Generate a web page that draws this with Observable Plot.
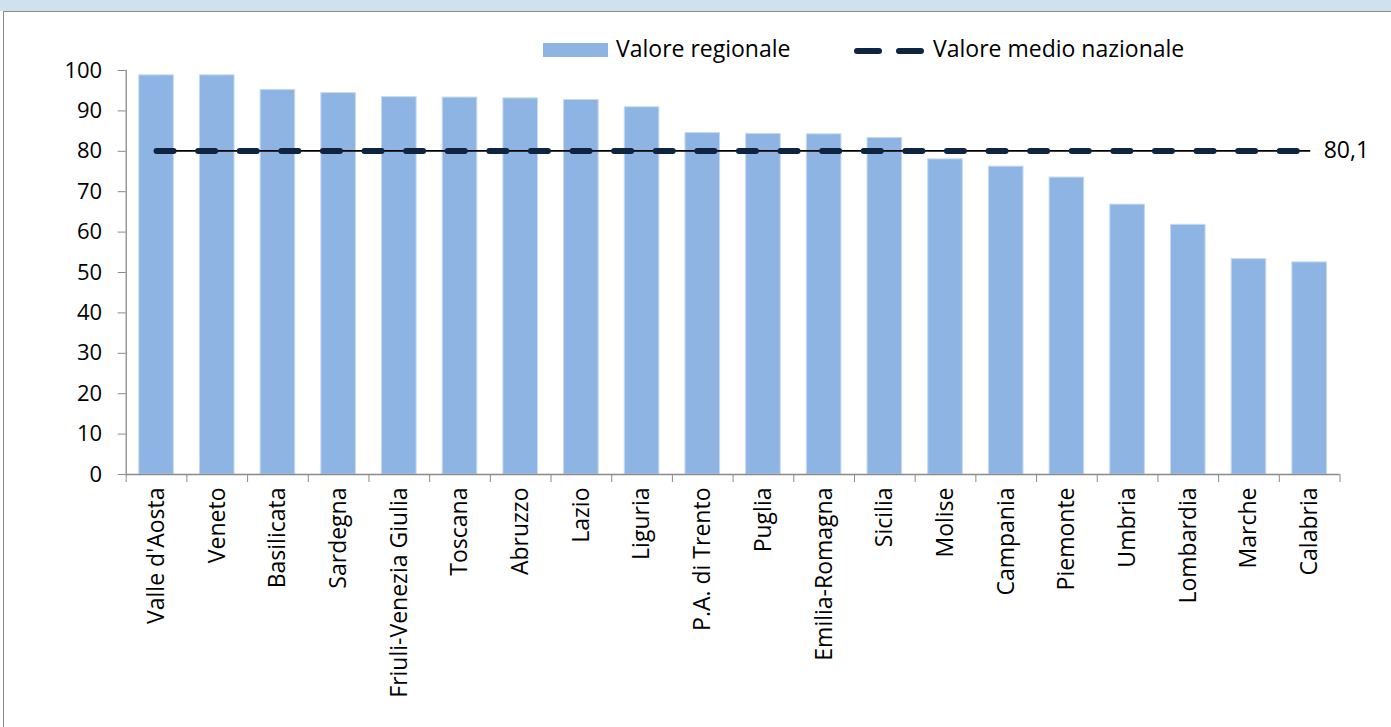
<!DOCTYPE html>
<html><head><meta charset="utf-8">
<script src="https://cdn.jsdelivr.net/npm/d3@7"></script>
<script src="https://cdn.jsdelivr.net/npm/@observablehq/plot@0.6"></script>
<style>
body{margin:0;background:#fff;font-family:"Open Sans",sans-serif;}
#wrap{position:relative;width:1391px;height:727px;overflow:hidden;background:#fff;}
#band{position:absolute;left:0;top:0;width:1391px;height:11px;background:#cfe1ec;}
#hline{position:absolute;left:3px;top:11px;width:1388px;height:1px;background:#8a8a8a;}
#vline{position:absolute;left:3px;top:11px;width:1px;height:716px;background:#8a8a8a;}
#chart{position:absolute;left:0;top:0;}
.leg{position:absolute;font-size:23px;color:#000;line-height:1;white-space:nowrap;}
</style></head>
<body>
<div id="wrap">
  <div id="band"></div><div id="hline"></div><div id="vline"></div>
  <div id="chart"></div>
  <div id="legend"></div>
</div>
<script>
const regions = ["Valle d'Aosta","Veneto","Basilicata","Sardegna","Friuli-Venezia Giulia","Toscana","Abruzzo","Lazio","Liguria","P.A. di Trento","Puglia","Emilia-Romagna","Sicilia","Molise","Campania","Piemonte","Umbria","Lombardia","Marche","Calabria"];
const values = [98.8,98.8,95.2,94.4,93.4,93.3,93.1,92.7,90.9,84.5,84.3,84.2,83.3,78.0,76.2,73.5,66.8,61.8,53.3,52.5];
const nationalMean = 80.1;
const yTicks = [0,10,20,30,40,50,60,70,80,90,100];
const seriesNames = ["Valore regionale","Valore medio nazionale"];

const barColor = "#8eb4e3";
const dashColor = "#0f2440";
const axisColor = "#8a8a8a";
const data = regions.map((r,i)=>({region:r, value:values[i]}));

const W = 1391, H = 727, mL = 125.7, mR = 51.5, mT = 70, mB = 253;
const step = (W - mL - mR) / regions.length;

const chart = Plot.plot({
  width: W, height: H,
  marginTop: mT, marginBottom: mB, marginLeft: mL, marginRight: mR,
  style: {background: "transparent", fontFamily: "Open Sans", fontSize: "23px", color: "#000", overflow: "visible"},
  x: {domain: regions, paddingInner: 0.43, paddingOuter: 0.215, round: false, label: null},
  y: {domain: [0, 100], label: null},
  marks: [
    Plot.barY(data, {x: "region", y: "value", fill: barColor, stroke: "#c6d9f1", strokeWidth: 1}),
    Plot.ruleY([0], {stroke: axisColor, strokeWidth: 1.3}),
    Plot.frame({anchor: "left", stroke: axisColor, strokeWidth: 1.3}),
    Plot.axisY({ticks: yTicks, tickSize: 8, tickPadding: 16, stroke: axisColor, fill: "#000", fontSize: 22, label: null, tickFormat: d => d}),
    Plot.axisX({ticks: regions, tickSize: 8, dx: -step/2, stroke: axisColor, fill: "none", label: null}),
    Plot.axisX({ticks: [regions[regions.length-1]], tickSize: 8, dx: step/2, stroke: axisColor, fill: "none", label: null}),
    Plot.axisX({tickSize: 0, tickRotate: -90, tickPadding: 13, fill: "#000", fontSize: 23, label: null}),
    Plot.lineY(regions, {x: d => d, y: () => nationalMean, stroke: "#000", strokeWidth: 1.6}),
    Plot.lineY(regions, {x: d => d, y: () => nationalMean, stroke: dashColor, strokeWidth: 6, strokeDasharray: "17 24.6", strokeLinecap: "round"}),
    Plot.text([nationalMean], {x: () => regions[regions.length-1], y: d => d, text: d => d.toFixed(1).replace(".", ","), textAnchor: "start", dx: 14, fontSize: 23, fill: "#000"})
  ]
});
document.getElementById("chart").appendChild(chart);

const leg = document.getElementById("legend");
leg.innerHTML = `
  <div style="position:absolute;left:543px;top:43px;width:65px;height:14px;background:${barColor}"></div>
  <div class="leg" style="left:616px;top:37px">${seriesNames[0]}</div>
  <svg style="position:absolute;left:850px;top:40px" width="80" height="22">
    <line x1="7" y1="11" x2="29" y2="11" stroke="${dashColor}" stroke-width="6" stroke-linecap="round"/>
    <line x1="49" y1="11" x2="71" y2="11" stroke="${dashColor}" stroke-width="6" stroke-linecap="round"/>
  </svg>
  <div class="leg" style="left:933px;top:37px">${seriesNames[1]}</div>`;
</script>
</body></html>
